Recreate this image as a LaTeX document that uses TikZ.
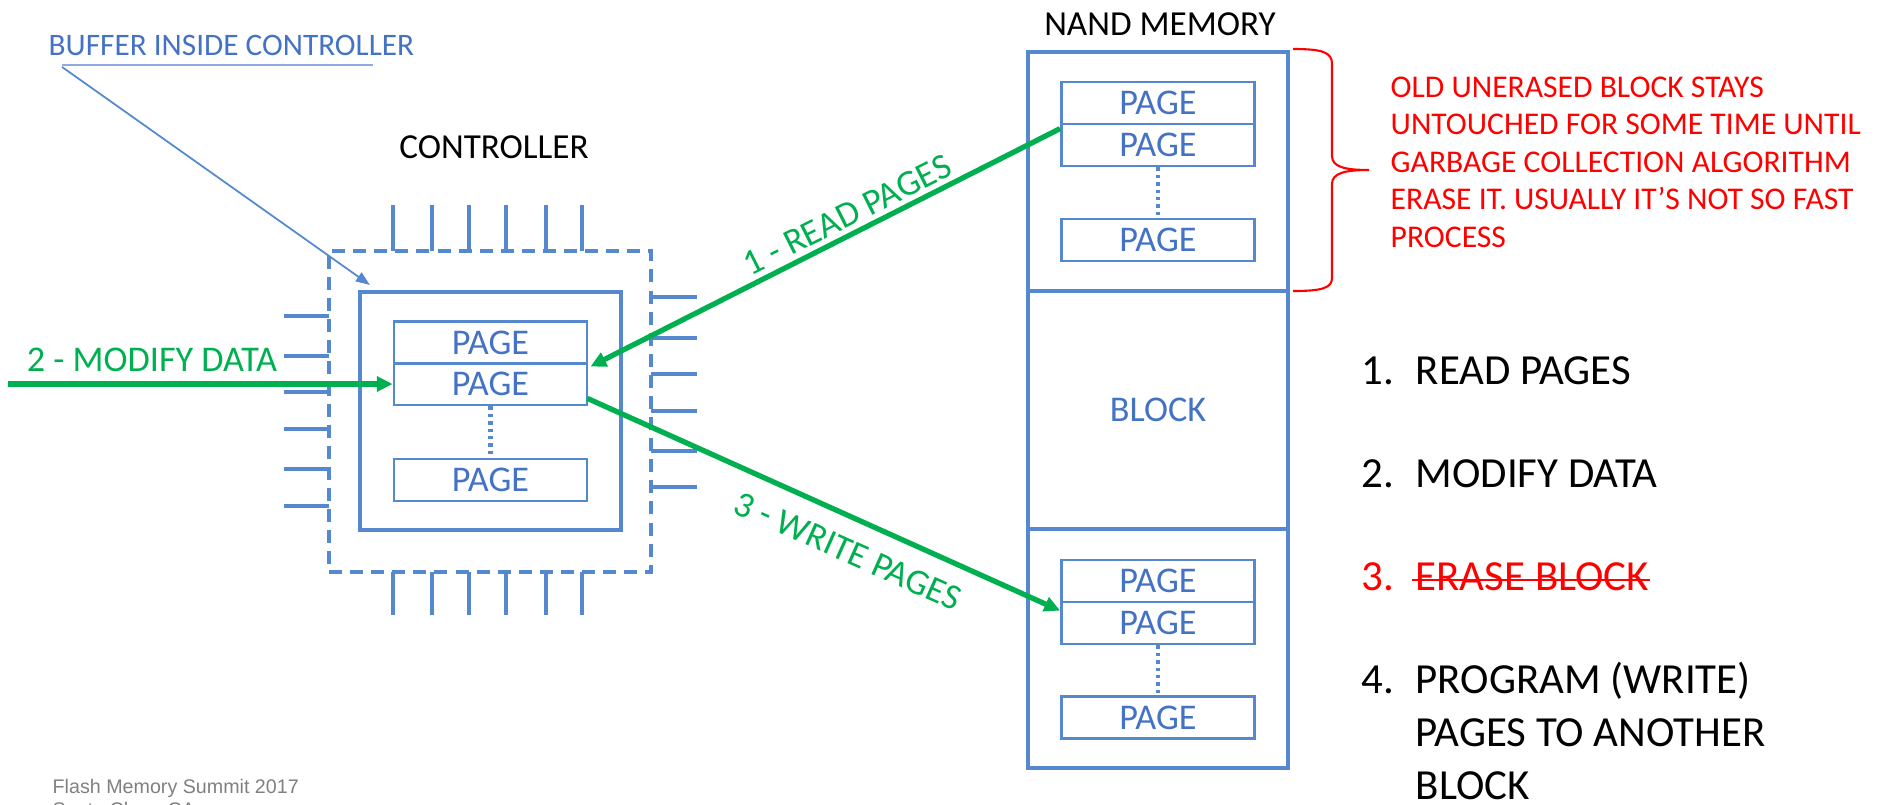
\documentclass[tikz,border=0pt]{standalone}
\usepackage{fontspec}
\setmainfont{Carlito}
\newfontfamily\footfont{Liberation Sans}
\usepackage{tikz}
\usetikzlibrary{arrows.meta, calc}

\definecolor{chipblue}{RGB}{86,136,208}
\definecolor{txtblue}{RGB}{68,114,196}
\definecolor{lineblue}{RGB}{143,170,220}
\definecolor{stepgreen}{RGB}{0,176,80}
\definecolor{noteRed}{RGB}{255,0,0}

\begin{document}
\begin{tikzpicture}[x=0.1mm, y=-0.1mm,
        page/.style = {draw=chipblue, line width=0.8pt, minimum width=19.3mm, minimum height=4.2mm,
                       inner sep=0pt, text=txtblue, font=\fontsize{10.3}{12}\selectfont},
        block/.style = {draw=chipblue, line width=1.2pt, minimum width=26mm, minimum height=23.85mm,
                        inner sep=0pt, text=txtblue, font=\fontsize{10.3}{12}\selectfont},
        chipedge/.style = {draw=chipblue, line width=1.1pt, dash pattern=on 3.7pt off 2.3pt, inner sep=0pt},
        pin/.style = {chipblue, line width=1.2pt},
        dots/.style = {chipblue, line width=1.2pt, dash pattern=on 1pt off 1.1pt},
        flow/.style = {stepgreen, line width=1.5pt, -{Triangle[length=4.5pt, width=4.2pt]}},
        flowlabel/.style = {text=stepgreen, inner sep=0pt, font=\fontsize{10.3}{12}\selectfont},
        title/.style = {anchor=base, inner sep=0pt, font=\fontsize{10}{12}\selectfont},
        item/.style = {anchor=base west, inner sep=0pt, font=\fontsize{12.2}{15}\selectfont},
    ]
    \useasboundingbox (0,0) rectangle (1881,804);

    % controller chip with its buffer
    \draw
        (490, 411.5)   node[chipedge, minimum width=32.2mm, minimum height=32.1mm](chip){}
        (490.5, 411)   node[block, minimum width=26.1mm, minimum height=23.8mm](buffer){}
        (490.5, 342.5) node[page](cp1){PAGE}
        (490.5, 384)   node[page](cp2){PAGE}
        (490.5, 480)   node[page](cp3){PAGE}
        (494, 158)     node[title](ctrltitle){CONTROLLER}
    ;
    \foreach \x in {393, 432, 469, 506, 546, 582} {
        \draw[pin] (\x, 205) -- (\x, 251);
        \draw[pin] (\x, 572) -- (\x, 615);
    }
    \foreach \y in {316, 356, 392, 429, 469, 506}
        \draw[pin] (284, \y) -- (329, \y);
    \foreach \y in {297, 338, 374, 411, 451, 487}
        \draw[pin] (651, \y) -- (697, \y);
    \draw[dots] (cp2.south) -- (cp3.north);

    % NAND memory: three blocks
    \draw
        (1158, 171.5) node[block](oldblk){}
        (1158, 410)   node[block](midblk){BLOCK}
        (1158, 648.5) node[block](newblk){}
        (1158, 103)   node[page](np1){PAGE}
        (1158, 145)   node[page](np2){PAGE}
        (1158, 240)   node[page](np3){PAGE}
        (1158, 581)   node[page](np4){PAGE}
        (1158, 623)   node[page](np5){PAGE}
        (1158, 717.5) node[page](np6){PAGE}
        (1160, 35)    node[title](nandtitle){NAND MEMORY}
    ;
    \draw[dots] (np2.south) -- (np3.north);
    \draw[dots] (np5.south) -- (np6.north);

    % buffer callout
    \node[anchor=base west, inner sep=0pt, text=txtblue, font=\fontsize{8.9}{11}\selectfont]
        (buflbl) at (48, 55) {BUFFER INSIDE CONTROLLER};
    \draw[lineblue, line width=0.6pt] ($(buflbl.south west)+(14,9)$) -- ($(buflbl.south east)+(-42,9)$);
    \draw[chipblue, line width=0.5pt, -{Triangle[length=4pt, width=3pt]}]
        ($(buflbl.south west)+(14,11)$) -- ($(buffer.north west)+(12,-5)$);

    % data flow
    \coordinate (feed) at (8, 384);
    \draw[flow] (feed) -- (cp2.west);
    \draw[flow] ($(np2.north west)+(0,6)$) -- ($(cp2.north east)+(2,5)$);
    \draw[flow] ($(cp2.south east)+(-1,-8)$) -- ($(np5.north west)+(0,10)$);
    \node[flowlabel, anchor=base] (modlbl) at (152, 371) {2 - MODIFY DATA};
    \node[flowlabel, rotate=26.6] (readlbl) at (847, 215) {1 - READ PAGES};
    \node[flowlabel, rotate=-24] (writelbl) at (848, 551) {3 - WRITE PAGES};

    % note on the old block
    \draw[noteRed, line width=0.6pt]
        (1293, 49) .. controls (1322, 49) and (1332, 52) .. (1332, 64) -- (1332, 156)
        .. controls (1332, 167) and (1345, 170) .. (1369, 170)
        .. controls (1345, 170) and (1332, 173) .. (1332, 184) -- (1332, 278)
        .. controls (1332, 288) and (1322, 291) .. (1293, 291);
    \node[anchor=north west, inner sep=0pt, align=left, text=noteRed, font=\fontsize{9}{10.67}\selectfont]
        (gcnote) at (1390, 76) {OLD UNERASED BLOCK STAYS\\UNTOUCHED FOR SOME TIME UNTIL\\GARBAGE COLLECTION ALGORITHM\\ERASE IT. USUALLY IT’S NOT SO FAST\\PROCESS};

    % steps
    \node[item] (n1) at (1361, 384) {1.};
    \node[item] (s1) at (1415, 384) {READ PAGES};
    \node[item] (n2) at (1361, 487) {2.};
    \node[item] (s2) at (1415, 487) {MODIFY DATA};
    \node[item, text=noteRed] (n3) at (1361, 590) {3.};
    \node[item, text=noteRed] (s3) at (1415, 590) {ERASE BLOCK};
    \draw[noteRed, line width=0.6pt] ($(s3.base west)+(-3,-10)$) -- ($(s3.base east)+(0,-10)$);
    \node[item] (n4) at (1361, 693) {4.};
    \node[item] (s4a) at (1415, 693) {PROGRAM (WRITE)};
    \node[item] (s4b) at (1415, 746) {PAGES TO ANOTHER};
    \node[item] (s4c) at (1415, 799) {BLOCK};

    % footer
    \node[anchor=base west, inner sep=0pt, text=black!50, font=\footfont\fontsize{5.6}{7}\selectfont]
        (foot1) at (52, 793) {Flash Memory Summit 2017};
    \node[anchor=base west, inner sep=0pt, text=black!50, font=\footfont\fontsize{5.6}{7}\selectfont]
        (foot2) at (52, 816) {Santa Clara, CA};
\end{tikzpicture}
\end{document}
